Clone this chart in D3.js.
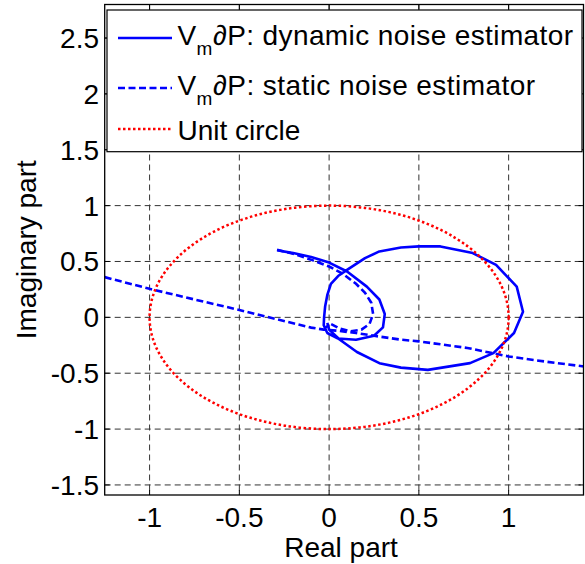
<!DOCTYPE html>
<html>
<head>
<meta charset="utf-8">
<script src="https://cdn.jsdelivr.net/npm/d3@7"></script>
<style>
  body { margin: 0; background: #fff; }
  text { font-family: "Liberation Sans", Arial, sans-serif; fill: #000; }
</style>
</head>
<body>
<div id="chart"></div>
<script>
(function(){
  'use strict';

  // tick values
  var xTicks = [-1, -0.5, 0, 0.5, 1];
  var yTicks = [-1.5, -1, -0.5, 0, 0.5, 1, 1.5, 2, 2.5];

  // Vm dP : dynamic noise estimator (solid)
  var dynamicRe = [-0.29,-0.2,-0.1,0.0,0.1,0.21,0.28,0.31,0.30,0.25,0.15,0.05,-0.01,-0.03,-0.028,-0.022,-0.01,0.01,0.05,0.1,0.2,0.28,0.4,0.5,0.62,0.8,0.93,1.045,1.08,1.03,0.915,0.785,0.55,0.4,0.28,0.155,0.06,0.0,-0.01];
  var dynamicIm = [0.60,0.575,0.54,0.49,0.41,0.275,0.16,0.03,-0.09,-0.165,-0.2,-0.19,-0.14,-0.07,0.0,0.1,0.2,0.3,0.37,0.425,0.53,0.59,0.625,0.635,0.635,0.575,0.47,0.275,0.05,-0.14,-0.32,-0.41,-0.47,-0.45,-0.41,-0.31,-0.2,-0.11,-0.05];

  // Vm dP : static noise estimator (dashed), loop part and long branch
  var staticLoopRe = [-0.29,-0.2,-0.09,0.0,0.077,0.15,0.2,0.235,0.245,0.225,0.18,0.12,0.06,0.01,-0.02];
  var staticLoopIm = [0.605,0.57,0.51,0.455,0.39,0.3,0.22,0.13,0.03,-0.06,-0.11,-0.125,-0.1,-0.06,-0.09];
  var staticLineRe = [-1.25,-1.0,-0.75,-0.5,-0.3,-0.16,-0.1,-0.03,0.05,0.15,0.25,0.4,0.5,0.77,1.0,1.2,1.42];
  var staticLineIm = [0.36,0.255,0.16,0.066,-0.014,-0.068,-0.092,-0.11,-0.12,-0.14,-0.165,-0.2,-0.215,-0.274,-0.35,-0.395,-0.44];

  var unitRadius = 1;

  var legendLabels = [
    {v: 'V', sub: 'm', rest: '\u2202P: dynamic noise estimator', len: 360, dash: null, color: '#0000ff'},
    {v: 'V', sub: 'm', rest: '\u2202P: static noise estimator', len: 322, dash: '7,3.5', color: '#0000ff'},
    {v: null, sub: null, rest: 'Unit circle', len: null, dash: '2.5,2.5', color: '#ff0000'}
  ];

  var W = 585, H = 564;
  var left = 104.7, right = 583.5, top = 4.5, bottom = 495;
  var fs = 28;

  var x = d3.scaleLinear().domain([-1.25, 1.417]).range([left, right]);
  var y = d3.scaleLinear().domain([-1.59, 2.8]).range([bottom, top]);

  var svg = d3.select('#chart').append('svg')
    .attr('width', W).attr('height', H);

  svg.append('defs').append('clipPath').attr('id', 'plotclip')
    .append('rect').attr('x', left).attr('y', top)
    .attr('width', right - left).attr('height', bottom - top);

  // grid
  var grid = svg.append('g');
  grid.selectAll('line.gx').data(xTicks).enter().append('line')
    .attr('x1', function(d){ return x(d); }).attr('x2', function(d){ return x(d); })
    .attr('y1', top).attr('y2', bottom)
    .attr('stroke', '#333').attr('stroke-width', 1).attr('stroke-dasharray', '6,4');
  grid.selectAll('line.gy').data(yTicks).enter().append('line')
    .attr('y1', function(d){ return y(d); }).attr('y2', function(d){ return y(d); })
    .attr('x1', left).attr('x2', right)
    .attr('stroke', '#333').attr('stroke-width', 1).attr('stroke-dasharray', '6,4');

  var line = d3.line().x(function(d){ return x(d[0]); }).y(function(d){ return y(d[1]); });
  function pts(re, im){ return re.map(function(r, i){ return [r, im[i]]; }); }

  var plot = svg.append('g').attr('clip-path', 'url(#plotclip)');

  plot.append('path').datum(pts(dynamicRe, dynamicIm))
    .attr('d', line).attr('fill', 'none')
    .attr('stroke', '#0000ff').attr('stroke-width', 2.6).attr('stroke-linejoin', 'round');

  plot.append('path').datum(pts(staticLoopRe, staticLoopIm))
    .attr('d', line).attr('fill', 'none')
    .attr('stroke', '#0000ff').attr('stroke-width', 2.6).attr('stroke-dasharray', '7,3.5');
  plot.append('path').datum(pts(staticLineRe, staticLineIm))
    .attr('d', line).attr('fill', 'none')
    .attr('stroke', '#0000ff').attr('stroke-width', 2.6).attr('stroke-dasharray', '7,3.5');

  plot.append('ellipse')
    .attr('cx', x(0)).attr('cy', y(0))
    .attr('rx', x(unitRadius) - x(0)).attr('ry', y(0) - y(unitRadius))
    .attr('fill', 'none').attr('stroke', '#ff0000').attr('stroke-width', 2.5)
    .attr('stroke-dasharray', '2.5,2.5');

  // axes box + inward ticks
  var ax = svg.append('g');
  ax.append('rect').attr('x', left).attr('y', top)
    .attr('width', right - left).attr('height', bottom - top)
    .attr('fill', 'none').attr('stroke', '#000').attr('stroke-width', 1.3);
  xTicks.forEach(function(d){
    ax.append('line').attr('x1', x(d)).attr('x2', x(d)).attr('y1', bottom).attr('y2', bottom - 5).attr('stroke', '#000');
    ax.append('line').attr('x1', x(d)).attr('x2', x(d)).attr('y1', top).attr('y2', top + 5).attr('stroke', '#000');
    ax.append('text').attr('x', x(d)).attr('y', 527).attr('text-anchor', 'middle')
      .attr('font-size', fs).text(d);
  });
  yTicks.forEach(function(d){
    ax.append('line').attr('x1', left).attr('x2', left + 5).attr('y1', y(d)).attr('y2', y(d)).attr('stroke', '#000');
    ax.append('line').attr('x1', right).attr('x2', right - 5).attr('y1', y(d)).attr('y2', y(d)).attr('stroke', '#000');
    ax.append('text').attr('x', 99).attr('y', y(d) + 10).attr('text-anchor', 'end')
      .attr('font-size', fs).text(d);
  });

  svg.append('text').attr('x', 341).attr('y', 557).attr('text-anchor', 'middle')
    .attr('font-size', fs).text('Real part');
  svg.append('text').attr('transform', 'translate(36,' + ((top + bottom) / 2) + ') rotate(-90)')
    .attr('text-anchor', 'middle').attr('font-size', fs).text('Imaginary part');

  // legend
  var lg = svg.append('g');
  lg.append('rect').attr('x', 107).attr('y', 10).attr('width', 475).attr('height', 141.7)
    .attr('fill', '#fff').attr('stroke', '#000').attr('stroke-width', 1.2);
  var rowBase = [45, 95, 140];
  var rowLine = [38, 88, 129];
  legendLabels.forEach(function(d, i){
    lg.append('line').attr('x1', 118).attr('x2', 172).attr('y1', rowLine[i]).attr('y2', rowLine[i])
      .attr('stroke', d.color).attr('stroke-width', 2.5)
      .attr('stroke-dasharray', d.dash);
    if (d.v) {
      lg.append('text').attr('x', 177.5).attr('y', rowBase[i]).attr('font-size', fs).text(d.v);
      lg.append('text').attr('x', 196.5).attr('y', rowBase[i] + 10).attr('font-size', 19).text(d.sub);
      lg.append('text').attr('x', 213).attr('y', rowBase[i]).attr('font-size', fs)
        .attr('textLength', d.len).attr('lengthAdjust', 'spacing').text(d.rest);
    } else {
      lg.append('text').attr('x', 177.5).attr('y', rowBase[i]).attr('font-size', fs).text(d.rest);
    }
  });
})();
</script>
</body>
</html>
